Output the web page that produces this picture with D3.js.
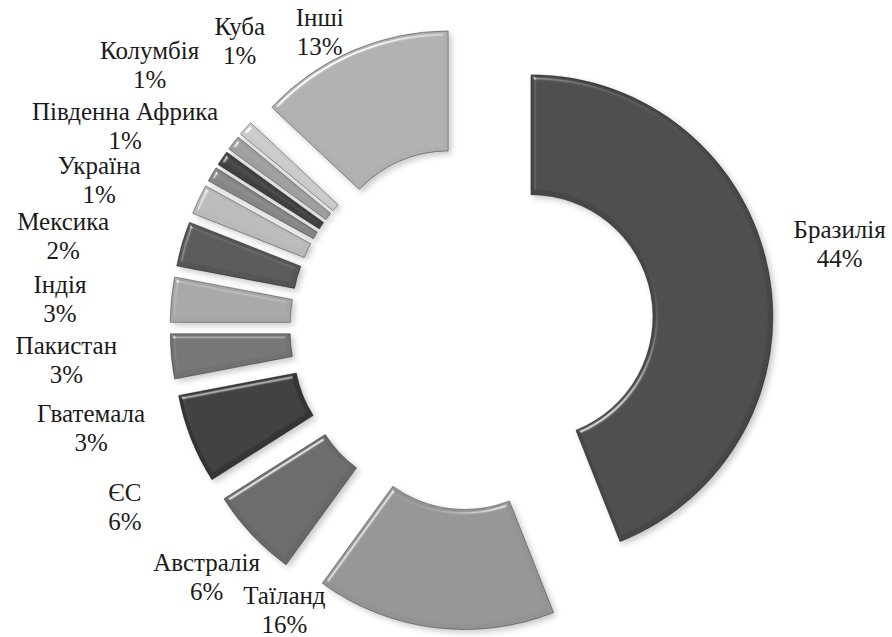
<!DOCTYPE html>
<html>
<head>
<meta charset="utf-8">
<script src="https://cdn.jsdelivr.net/npm/d3@7"></script>
<style>
  html, body { margin: 0; padding: 0; background: #fff; }
  svg { display: block; }
  text.lbl { font-family: "Times New Roman", Times, "Liberation Serif", "DejaVu Serif", "Noto Serif", serif; font-size: 25px; fill: #1a1a1a; }
</style>
</head>
<body>
<div id="view"></div>
<script>
// chart data (shares, %)
const countries = ["Бразилія", "Таїланд", "Австралія", "ЄС", "Гватемала", "Пакистан",
                   "Індія", "Мексика", "Україна", "Південна Африка", "Колумбія", "Куба", "Інші"];
const shares = [44, 16, 6, 6, 3, 3, 3, 2, 1, 1, 1, 1, 13];
const sliceColors = ["#474747", "#939393", "#676767", "#363636", "#727272", "#a6a6a6",
                     "#545454", "#b9b9b9", "#868686", "#404040", "#9e9e9e", "#cacaca", "#afafaf"];

// label placement: angle shift from slice middle (deg) and distance from centre
const labelShift = [-2, 26.4, 0, -5.8, -9.4, -10, -12.3, -12.6, -9.0, -4.1, 1.4, 9.6, -3.9];
const labelDist  = [377, 339, 364, 391, 394, 407, 413, 419, 401, 401, 416, 369, 332];

const width = 892, height = 637;
const cx = 472, cy = 328;
const outerR = 242, innerR = 122, explode = 60;

const svg = d3.select("#view").append("svg")
  .attr("width", width)
  .attr("height", height);

// soft bevel + shadow, like the office chart style
const defs = svg.append("defs");
const f = defs.append("filter").attr("id", "bevel")
  .attr("x", "-10%").attr("y", "-10%").attr("width", "125%").attr("height", "125%");
f.append("feGaussianBlur").attr("in", "SourceAlpha").attr("stdDeviation", 2).attr("result", "blur");
f.append("feSpecularLighting").attr("in", "blur").attr("surfaceScale", 4)
  .attr("specularConstant", 1).attr("specularExponent", 35)
  .attr("lighting-color", "#ffffff").attr("result", "spec")
  .append("feDistantLight").attr("azimuth", 235).attr("elevation", 38);
f.append("feComposite").attr("in", "spec").attr("in2", "SourceAlpha")
  .attr("operator", "in").attr("result", "specIn");
f.append("feComposite").attr("in", "SourceGraphic").attr("in2", "specIn")
  .attr("operator", "arithmetic").attr("k1", 0).attr("k2", 1).attr("k3", 0.7).attr("k4", 0)
  .attr("result", "lit");
f.append("feGaussianBlur").attr("in", "SourceAlpha").attr("stdDeviation", 3).attr("result", "sh");
f.append("feOffset").attr("in", "sh").attr("dx", 3).attr("dy", 3).attr("result", "shOff");
f.append("feComponentTransfer").attr("in", "shOff").attr("result", "shFade")
  .append("feFuncA").attr("type", "linear").attr("slope", 0.22);
const fm = f.append("feMerge");
fm.append("feMergeNode").attr("in", "shFade");
fm.append("feMergeNode").attr("in", "lit");

const data = countries.map((name, i) => ({ name, value: shares[i], color: sliceColors[i] }));

const pie = d3.pie().sort(null).value(d => d.value);
const arcs = pie(data);

const arc = d3.arc().innerRadius(innerR).outerRadius(outerR);

const g = svg.append("g").attr("transform", `translate(${cx},${cy})`);

g.selectAll("path.slice")
  .data(arcs)
  .enter()
  .append("path")
  .attr("class", "slice")
  .attr("d", arc)
  .attr("transform", d => {
    const mid = (d.startAngle + d.endAngle) / 2;
    return `translate(${Math.sin(mid) * explode},${-Math.cos(mid) * explode})`;
  })
  .style("fill", d => d.data.color)
  .style("stroke", "rgba(0,0,0,0.45)")
  .style("stroke-width", 0.8)
  .attr("filter", "url(#bevel)");

const labelArc = d3.arc()
  .innerRadius(d => d.r)
  .outerRadius(d => d.r);

const labels = g.selectAll("g.label")
  .data(arcs)
  .enter()
  .append("g")
  .attr("class", "label")
  .attr("transform", d => {
    const a = (d.startAngle + d.endAngle) / 2 + labelShift[d.index] * Math.PI / 180;
    const p = labelArc.centroid({ startAngle: a, endAngle: a, r: labelDist[d.index] });
    return `translate(${p[0]},${p[1]})`;
  });

labels.append("text")
  .attr("class", "lbl")
  .attr("text-anchor", "middle")
  .attr("y", -14.5 + 8)
  .text(d => d.data.name);

labels.append("text")
  .attr("class", "lbl")
  .attr("text-anchor", "middle")
  .attr("y", 14.5 + 8)
  .text(d => d.data.value + "%");
</script>
</body>
</html>
